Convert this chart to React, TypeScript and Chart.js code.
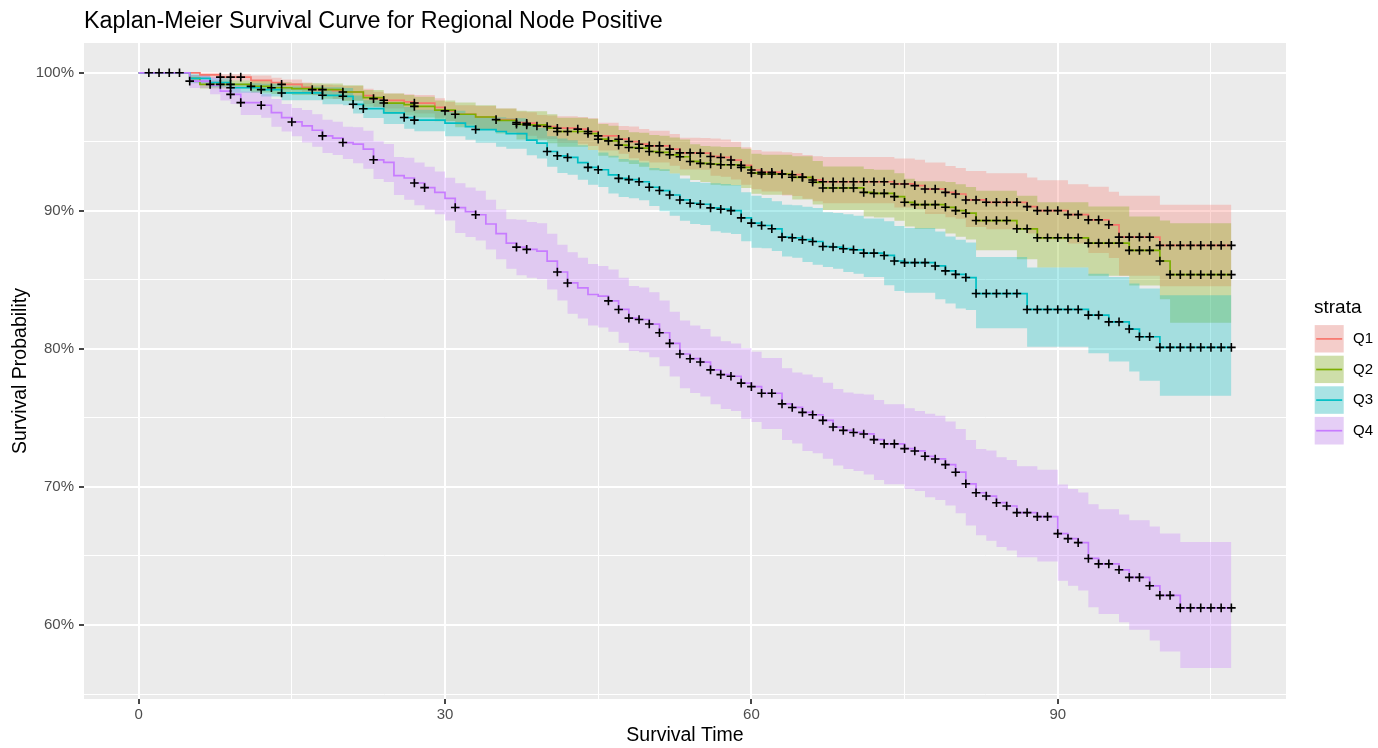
import React, { useEffect, useRef } from "react";
import { Chart, registerables } from "chart.js";

Chart.register(...registerables);

const FONT = "'Liberation Sans', Arial, Helvetica, sans-serif";

// ---------------- Q1 ----------------
const q1Time = [0, 6, 8, 11, 13, 14, 16, 17, 19, 20, 22, 23, 24, 26, 27, 29, 30, 31, 33, 35, 37, 38, 39, 40, 41, 43, 44, 45, 47, 48, 49, 50, 52, 53, 55, 56, 57, 58, 59, 60, 61, 63, 64, 65, 66, 67, 74, 76, 77, 79, 80, 81, 83, 87, 88, 91, 93, 95, 96, 100, 107];
const q1Surv = [100, 99.85, 99.69, 99.45, 99.3, 99.16, 98.95, 98.78, 98.7, 98.61, 98.35, 98.13, 98.01, 97.9, 97.81, 97.5, 97.24, 97.0, 96.8, 96.61, 96.39, 96.35, 96.15, 96.11, 95.99, 95.92, 95.75, 95.43, 95.19, 95.02, 94.83, 94.71, 94.47, 94.2, 94.18, 93.94, 93.87, 93.68, 93.3, 92.96, 92.8, 92.67, 92.62, 92.43, 92.24, 92.11, 91.95, 91.83, 91.58, 91.34, 91.22, 90.79, 90.62, 90.31, 90.02, 89.73, 89.35, 88.99, 88.1, 87.5, 87.5];
const q1Upper = [100, 100, 99.9, 99.8, 99.65, 99.51, 99.3, 99.13, 99.1, 99.05, 98.85, 98.63, 98.51, 98.45, 98.4, 98.15, 97.89, 97.65, 97.6, 97.41, 97.19, 97.15, 96.95, 96.91, 96.85, 96.8, 96.7, 96.38, 96.14, 96.12, 95.93, 95.81, 95.57, 95.3, 95.28, 95.24, 95.17, 95.0, 94.6, 94.4, 94.3, 94.25, 94.2, 94.05, 93.95, 93.9, 93.8, 93.7, 93.5, 93.25, 93.1, 92.89, 92.72, 92.41, 92.22, 91.93, 91.75, 91.39, 91.1, 90.45, 90.45];
const q1Lower = [100, 99.6, 99.44, 99.05, 98.9, 98.76, 98.55, 98.38, 98.1, 98.01, 97.75, 97.53, 97.41, 97.15, 97.06, 96.75, 96.49, 96.25, 95.9, 95.71, 95.49, 95.45, 95.25, 95.21, 94.94, 94.87, 94.7, 94.38, 94.14, 93.82, 93.63, 93.51, 93.27, 93.0, 92.98, 92.54, 92.47, 92.28, 91.9, 91.56, 91.4, 91.12, 91.07, 90.88, 90.69, 90.56, 90.25, 90.13, 89.78, 89.54, 89.42, 88.84, 88.67, 88.36, 87.92, 87.63, 86.95, 86.59, 85.3, 84.54, 84.54];
const q1Censor = [8, 9, 10, 14, 17, 23, 24, 27, 30, 31, 35, 37, 38, 39, 40, 41, 43, 44, 45, 47, 48, 49, 50, 51, 52, 53, 54, 55, 56, 57, 58, 59, 60, 61, 62, 63, 64, 65, 66, 67, 68, 69, 70, 71, 72, 73, 74, 75, 76, 77, 78, 79, 80, 81, 82, 83, 84, 85, 86, 87, 88, 89, 90, 91, 92, 93, 94, 95, 96, 97, 98, 99, 100, 101, 102, 103, 104, 105, 106, 107];

// ---------------- Q2 ----------------
const q2Time = [0, 5, 6, 11, 13, 15, 18, 20, 22, 24, 26, 27, 29, 31, 33, 35, 37, 38, 40, 41, 44, 45, 46, 47, 48, 49, 50, 51, 52, 53, 54, 55, 56, 57, 59, 60, 61, 64, 66, 67, 71, 72, 74, 75, 76, 79, 80, 81, 82, 86, 88, 93, 97, 100, 101, 107];
const q2Surv = [100, 99.6, 99.16, 99.02, 98.92, 98.85, 98.78, 98.61, 98.2, 97.81, 97.7, 97.57, 97.3, 97.0, 96.8, 96.56, 96.27, 96.23, 96.0, 95.75, 95.6, 95.19, 95.07, 94.76, 94.59, 94.54, 94.3, 94.23, 94.06, 93.92, 93.58, 93.44, 93.39, 93.34, 93.15, 92.74, 92.67, 92.43, 92.07, 91.66, 91.34, 91.27, 91.03, 90.62, 90.45, 90.26, 90.02, 89.83, 89.3, 88.7, 88.05, 87.66, 87.14, 86.37, 85.38, 85.38];
const q2Upper = [100, 99.85, 99.45, 99.4, 99.32, 99.25, 99.22, 99.1, 98.75, 98.5, 98.4, 98.27, 98.0, 97.85, 97.65, 97.41, 97.25, 97.22, 97.0, 96.75, 96.68, 96.29, 96.17, 95.86, 95.69, 95.65, 95.5, 95.45, 95.31, 95.17, 94.83, 94.69, 94.66, 94.62, 94.5, 94.14, 94.07, 93.95, 93.62, 93.21, 93.04, 92.97, 92.73, 92.32, 92.15, 92.1, 91.92, 91.73, 91.46, 91.1, 90.62, 90.31, 89.59, 89.3, 89.11, 89.11];
const q2Lower = [100, 99.3, 98.86, 98.57, 98.47, 98.4, 98.13, 97.96, 97.55, 97.01, 96.9, 96.77, 96.5, 96.05, 95.85, 95.61, 95.17, 95.13, 94.9, 94.65, 94.4, 93.99, 93.87, 93.56, 93.39, 93.19, 92.95, 92.88, 92.71, 92.57, 92.23, 92.09, 91.89, 91.84, 91.65, 91.24, 91.17, 90.83, 90.47, 90.06, 89.59, 89.52, 89.28, 88.87, 88.7, 88.36, 88.12, 87.93, 87.14, 86.5, 85.9, 85.3, 84.6, 83.6, 81.89, 81.89];
const q2Censor = [7, 8, 9, 11, 13, 18, 20, 24, 27, 37, 38, 41, 42, 44, 45, 46, 47, 48, 49, 50, 51, 52, 53, 54, 55, 56, 57, 58, 59, 60, 61, 62, 63, 64, 65, 66, 67, 68, 69, 70, 71, 72, 73, 74, 75, 76, 77, 78, 79, 80, 81, 82, 83, 84, 85, 86, 87, 88, 89, 90, 91, 92, 93, 94, 95, 96, 97, 98, 99, 100, 101, 102, 103, 104, 105, 106, 107];

// ---------------- Q3 ----------------
const q3Time = [0, 5, 7, 9, 12, 14, 18, 20, 21, 22, 24, 26, 27, 30, 32, 33, 35, 36, 38, 39, 40, 41, 42, 43, 44, 45, 46, 47, 48, 49, 50, 51, 52, 53, 54, 55, 56, 57, 58, 59, 60, 61, 62, 63, 64, 65, 66, 67, 68, 69, 70, 71, 73, 74, 75, 78, 79, 80, 81, 82, 87, 93, 95, 97, 98, 100, 107];
const q3Surv = [100, 99.6, 99.3, 98.92, 98.78, 98.54, 98.37, 98.3, 97.72, 97.4, 97.1, 96.76, 96.57, 96.35, 96.1, 95.89, 95.75, 95.6, 95.12, 94.9, 94.3, 93.99, 93.87, 93.5, 93.15, 92.98, 92.6, 92.35, 92.26, 92.11, 91.71, 91.47, 91.15, 90.79, 90.55, 90.48, 90.22, 90.12, 90.02, 89.49, 89.11, 88.94, 88.7, 88.1, 88.05, 87.91, 87.78, 87.42, 87.38, 87.26, 87.18, 86.94, 86.77, 86.37, 86.25, 86.01, 85.65, 85.4, 85.17, 84.01, 82.86, 82.45, 81.96, 81.44, 80.88, 80.11, 80.11];
const q3Upper = [100, 99.9, 99.6, 99.25, 99.2, 99.0, 98.95, 98.9, 98.35, 98.02, 97.85, 97.52, 97.33, 97.25, 97.0, 96.8, 96.78, 96.7, 96.22, 96.0, 95.4, 95.24, 95.12, 94.75, 94.4, 94.23, 94.0, 93.75, 93.66, 93.51, 93.11, 93.02, 92.7, 92.34, 92.1, 92.03, 92.0, 91.95, 91.87, 91.34, 91.1, 90.94, 90.7, 90.45, 90.4, 90.3, 90.2, 89.9, 89.85, 89.75, 89.65, 89.45, 89.25, 88.9, 88.75, 88.5, 88.15, 87.9, 87.7, 86.66, 85.9, 85.45, 85.21, 84.73, 84.37, 83.89, 83.89];
const q3Lower = [100, 99.25, 98.95, 98.55, 98.28, 98.02, 97.72, 97.65, 97.05, 96.73, 96.3, 95.95, 95.76, 95.4, 95.15, 94.94, 94.65, 94.5, 94.02, 93.8, 93.2, 92.74, 92.62, 92.25, 91.9, 91.73, 91.25, 91.0, 90.91, 90.76, 90.36, 89.97, 89.65, 89.29, 89.05, 88.98, 88.52, 88.42, 88.32, 87.79, 87.33, 87.3, 87.1, 86.7, 86.6, 86.29, 86.1, 85.93, 85.8, 85.57, 85.45, 85.21, 84.61, 84.2, 84.06, 83.6, 83.29, 82.93, 82.81, 81.49, 80.16, 79.68, 79.08, 78.36, 77.7, 76.6, 76.6];
const q3Censor = [9, 12, 14, 18, 20, 21, 22, 26, 27, 33, 40, 41, 42, 44, 45, 47, 48, 49, 50, 51, 52, 53, 54, 55, 56, 57, 58, 59, 60, 61, 62, 63, 64, 65, 66, 67, 68, 69, 70, 71, 72, 73, 74, 75, 76, 77, 78, 79, 80, 81, 82, 83, 84, 85, 86, 87, 88, 89, 90, 91, 92, 93, 94, 95, 96, 97, 98, 99, 100, 101, 102, 103, 104, 105, 106, 107];

// ---------------- Q4 ----------------
const q4Time = [0, 5, 7, 8, 9, 10, 12, 13, 14, 15, 16, 17, 18, 19, 20, 21, 22, 23, 24, 25, 26, 27, 28, 29, 30, 31, 32, 33, 34, 35, 36, 37, 38, 39, 40, 41, 42, 43, 44, 45, 46, 47, 48, 49, 50, 51, 52, 53, 54, 55, 56, 57, 58, 59, 60, 61, 63, 64, 65, 66, 67, 68, 69, 70, 71, 72, 73, 75, 76, 77, 78, 79, 80, 81, 82, 83, 84, 85, 86, 88, 90, 91, 92, 93, 94, 96, 97, 99, 100, 102, 107];
const q4Surv = [100, 99.4, 99.1, 98.68, 98.44, 97.84, 97.65, 97.12, 96.76, 96.44, 96.15, 95.84, 95.43, 95.27, 94.95, 94.83, 94.47, 93.7, 93.51, 92.55, 92.38, 92.02, 91.68, 91.34, 90.91, 90.24, 89.95, 89.72, 89.05, 88.35, 87.66, 87.37, 87.21, 87.09, 86.36, 85.57, 84.78, 84.42, 83.94, 83.82, 83.48, 82.86, 82.23, 82.13, 81.8, 81.17, 80.4, 79.63, 79.29, 79.05, 78.48, 78.14, 78.02, 77.52, 77.27, 76.79, 76.02, 75.76, 75.4, 75.23, 74.82, 74.34, 74.1, 73.95, 73.84, 73.43, 73.12, 72.78, 72.61, 72.22, 72.03, 71.62, 71.07, 70.23, 69.58, 69.34, 68.86, 68.62, 68.14, 67.85, 66.62, 66.26, 65.97, 64.82, 64.43, 64.0, 63.45, 62.84, 62.15, 61.24, 61.24];
const q4Upper = [100, 99.85, 99.7, 99.3, 99.05, 98.65, 98.45, 98.1, 97.75, 97.45, 97.3, 97.0, 96.6, 96.45, 96.1, 96.05, 95.8, 95.05, 94.85, 93.9, 93.85, 93.5, 93.2, 92.85, 92.4, 92.0, 91.7, 91.45, 90.8, 90.1, 89.4, 89.35, 89.2, 89.1, 88.35, 87.55, 87.0, 86.6, 86.15, 86.0, 85.75, 85.15, 84.55, 84.45, 84.1, 83.5, 82.7, 82.05, 81.7, 81.45, 80.9, 80.55, 80.4, 80.05, 79.8, 79.35, 78.6, 78.3, 78.15, 77.95, 77.55, 77.1, 76.85, 76.75, 76.7, 76.3, 76.0, 75.7, 75.5, 75.3, 75.15, 74.75, 74.2, 73.4, 72.75, 72.65, 72.15, 71.95, 71.5, 71.25, 70.18, 69.85, 69.6, 68.74, 68.38, 68.0, 67.58, 67.13, 66.62, 66.02, 66.02];
const q4Lower = [100, 98.9, 98.45, 98.0, 97.75, 96.95, 96.75, 96.1, 95.75, 95.4, 94.95, 94.65, 94.2, 94.05, 93.75, 93.45, 93.05, 92.3, 92.1, 91.15, 90.8, 90.4, 90.1, 89.75, 89.3, 88.4, 88.1, 87.85, 87.2, 86.5, 85.8, 85.33, 85.15, 85.05, 84.3, 83.5, 82.55, 82.2, 81.7, 81.55, 81.24, 80.45, 79.85, 79.75, 79.4, 78.75, 78.0, 77.15, 76.8, 76.55, 76.0, 75.65, 75.5, 74.95, 74.7, 74.2, 73.4, 73.15, 72.6, 72.45, 72.05, 71.55, 71.3, 71.15, 70.9, 70.5, 70.2, 69.85, 69.7, 69.25, 69.05, 68.65, 68.1, 67.2, 66.5, 66.1, 65.65, 65.4, 64.9, 64.6, 63.2, 62.84, 62.5, 61.28, 60.8, 60.2, 59.66, 58.88, 58.08, 56.88, 56.88];
const q4Censor = [1, 2, 3, 4, 5, 9, 10, 12, 15, 18, 20, 23, 27, 28, 31, 33, 37, 38, 41, 42, 46, 47, 48, 49, 50, 51, 52, 53, 54, 55, 56, 57, 58, 59, 60, 61, 62, 63, 64, 65, 66, 67, 68, 69, 70, 71, 72, 73, 74, 75, 76, 77, 78, 79, 80, 81, 82, 83, 84, 85, 86, 87, 88, 89, 90, 91, 92, 93, 94, 95, 96, 97, 98, 99, 100, 101, 102, 103, 104, 105, 106, 107];

// ---------------- labels / ticks ----------------
const strataNames = ["Q1", "Q2", "Q3", "Q4"];
const strataColors = ["#F8766D", "#7CAE00", "#00BFC4", "#C77CFF"];
const xTickValues = [0, 15, 30, 45, 60, 75, 90, 105];
const xLabelValues = [0, 30, 60, 90];
const yTickValues = [55, 60, 65, 70, 75, 80, 85, 90, 95, 100];
const yLabelValues = [60, 70, 80, 90, 100];
const titleText = "Kaplan-Meier Survival Curve for Regional Node Positive";
const xTitle = "Survival Time";
const yTitle = "Survival Probability";
const legendTitle = "strata";

function hexToRgba(hex: string, a: number) {
  const n = parseInt(hex.slice(1), 16);
  return `rgba(${(n >> 16) & 255},${(n >> 8) & 255},${n & 255},${a})`;
}

function survAt(times: number[], surv: number[], t: number) {
  let v = surv[0];
  for (let k = 0; k < times.length; k++) {
    if (times[k] <= t) v = surv[k];
  }
  return v;
}

const panelPlugin = {
  id: "ggPanel",
  beforeDraw(chart: any) {
    const { ctx, chartArea } = chart;
    ctx.save();
    ctx.fillStyle = "#EBEBEB";
    ctx.fillRect(chartArea.left, chartArea.top, chartArea.right - chartArea.left, chartArea.bottom - chartArea.top);
    ctx.restore();
  },
  afterDraw(chart: any) {
    const { ctx } = chart;
    ctx.save();
    // title
    ctx.fillStyle = "#000000";
    ctx.font = `23.3px ${FONT}`;
    ctx.textAlign = "left";
    ctx.textBaseline = "alphabetic";
    ctx.fillText(titleText, 84, 28);
    // legend
    ctx.font = `19px ${FONT}`;
    ctx.fillText(legendTitle, 1314, 312.5);
    const pitch = 30.6;
    for (let i = 0; i < strataNames.length; i++) {
      const x = 1313.2;
      const y = 323.6 + i * pitch;
      const w = 32;
      ctx.fillStyle = "#F2F2F2";
      ctx.fillRect(x, y, w, pitch);
      ctx.fillStyle = hexToRgba(strataColors[i], 0.3);
      ctx.fillRect(x, y, w, pitch);
      ctx.strokeStyle = "#FFFFFF";
      ctx.lineWidth = 3;
      ctx.strokeRect(x, y, w, pitch);
      ctx.strokeStyle = strataColors[i];
      ctx.lineWidth = 1.7;
      ctx.beginPath();
      ctx.moveTo(x + 3, y + pitch / 2);
      ctx.lineTo(x + w - 3, y + pitch / 2);
      ctx.stroke();
      ctx.fillStyle = "#000000";
      ctx.font = `15px ${FONT}`;
      ctx.textBaseline = "middle";
      ctx.fillText(strataNames[i], 1353, y + pitch / 2);
      ctx.textBaseline = "alphabetic";
    }
    ctx.restore();
  },
};

export default function App() {
  const ref = useRef<HTMLCanvasElement | null>(null);

  useEffect(() => {
    if (!ref.current) return;
    const strata = [
      { time: q1Time, surv: q1Surv, upper: q1Upper, lower: q1Lower, censor: q1Censor },
      { time: q2Time, surv: q2Surv, upper: q2Upper, lower: q2Lower, censor: q2Censor },
      { time: q3Time, surv: q3Surv, upper: q3Upper, lower: q3Lower, censor: q3Censor },
      { time: q4Time, surv: q4Surv, upper: q4Upper, lower: q4Lower, censor: q4Censor },
    ];
    const datasets: any[] = [];
    strata.forEach((s, i) => {
      const color = strataColors[i];
      datasets.push({
        label: strataNames[i] + " upper",
        data: s.time.map((t, k) => ({ x: t, y: s.upper[k] })),
        stepped: "before",
        borderColor: "rgba(0,0,0,0)",
        borderWidth: 0,
        pointRadius: 0,
        backgroundColor: hexToRgba(color, 0.3),
        fill: "+1",
        order: 40 - i,
      });
      datasets.push({
        label: strataNames[i] + " lower",
        data: s.time.map((t, k) => ({ x: t, y: s.lower[k] })),
        stepped: "before",
        borderColor: "rgba(0,0,0,0)",
        borderWidth: 0,
        pointRadius: 0,
        fill: false,
        order: 40 - i,
      });
    });
    strata.forEach((s, i) => {
      datasets.push({
        label: strataNames[i],
        data: s.time.map((t, k) => ({ x: t, y: s.surv[k] })),
        stepped: "before",
        borderColor: strataColors[i],
        borderWidth: 1.7,
        pointRadius: 0,
        fill: false,
        order: 20 - i,
      });
    });
    strata.forEach((s, i) => {
      datasets.push({
        label: strataNames[i] + " censor",
        data: s.censor.map((c) => ({ x: c, y: survAt(s.time, s.surv, c) })),
        showLine: false,
        pointStyle: "cross",
        pointRadius: 4.3,
        pointBorderColor: "#000000",
        pointBackgroundColor: "#000000",
        pointBorderWidth: 1.6,
        fill: false,
        order: 5 - i,
      });
    });

    const isMajorX = (v: number) => xLabelValues.includes(v);
    const isMajorY = (v: number) => yLabelValues.includes(v);

    const chart = new Chart(ref.current, {
      type: "line",
      data: { datasets },
      options: {
        responsive: false,
        animation: false,
        events: [],
        devicePixelRatio: 1,
        layout: { padding: { left: 0, right: 92, top: 43, bottom: 0 } },
        plugins: {
          legend: { display: false },
          title: { display: false },
          tooltip: { enabled: false },
        },
        scales: {
          x: {
            type: "linear",
            min: -5.35,
            max: 112.35,
            afterBuildTicks: (axis: any) => {
              axis.ticks = xTickValues.map((v) => ({ value: v }));
            },
            afterFit: (axis: any) => {
              axis.height = 49;
            },
            ticks: {
              autoSkip: false,
              maxRotation: 0,
              padding: 1.5,
              color: "#4D4D4D",
              font: { family: FONT, size: 15 },
              callback: (v: any) => (isMajorX(Number(v)) ? String(v) : ""),
            },
            grid: {
              color: "#FFFFFF",
              lineWidth: (c: any) => (c.tick && isMajorX(c.tick.value) ? 2 : 1),
              tickColor: (c: any) => (c.tick && isMajorX(c.tick.value) ? "#333333" : "rgba(0,0,0,0)"),
              tickLength: 5,
              tickWidth: 1.8,
            },
            border: { display: false },
            title: {
              display: true,
              text: xTitle,
              color: "#000000",
              font: { family: FONT, size: 19.5 },
              padding: { top: 0, bottom: 1 },
            },
          },
          y: {
            type: "linear",
            min: 54.64,
            max: 102.16,
            afterBuildTicks: (axis: any) => {
              axis.ticks = yTickValues.map((v) => ({ value: v }));
            },
            afterFit: (axis: any) => {
              axis.width = 84;
            },
            ticks: {
              autoSkip: false,
              padding: 5,
              color: "#4D4D4D",
              font: { family: FONT, size: 15 },
              callback: (v: any) => (isMajorY(Number(v)) ? `${v}%` : ""),
            },
            grid: {
              color: "#FFFFFF",
              lineWidth: (c: any) => (c.tick && isMajorY(c.tick.value) ? 2 : 1),
              tickColor: (c: any) => (c.tick && isMajorY(c.tick.value) ? "#333333" : "rgba(0,0,0,0)"),
              tickLength: 5,
              tickWidth: 1.8,
            },
            border: { display: false },
            title: {
              display: true,
              text: yTitle,
              color: "#000000",
              font: { family: FONT, size: 19.5 },
              padding: { top: 8.5, bottom: 0 },
            },
          },
        },
      } as any,
      plugins: [panelPlugin],
    });
    return () => chart.destroy();
  }, []);

  return (
    <div style={{ position: "absolute", left: 0, top: 0, width: 1378, height: 748, background: "#FFFFFF" }}>
      <canvas ref={ref} width={1378} height={748} style={{ display: "block" }} />
    </div>
  );
}
